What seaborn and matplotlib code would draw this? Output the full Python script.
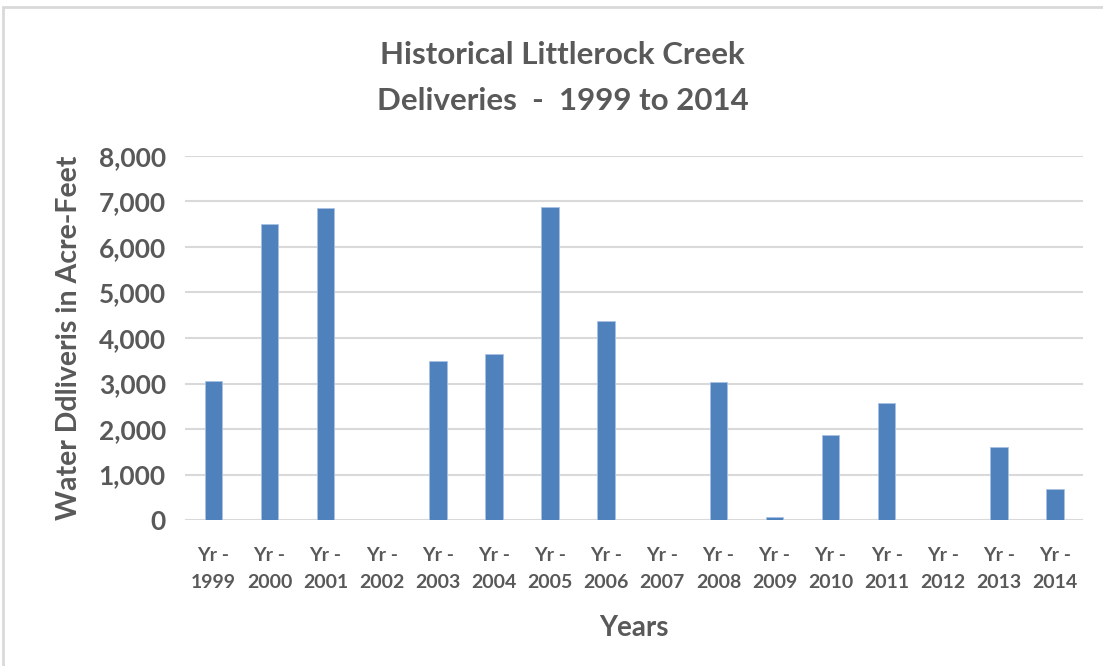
import pandas as pd
import matplotlib
matplotlib.use("Agg")
import matplotlib.pyplot as plt
import seaborn as sns
from matplotlib.patches import Rectangle
from matplotlib.ticker import FuncFormatter

# data
years = ["1999", "2000", "2001", "2002", "2003", "2004", "2005", "2006",
         "2007", "2008", "2009", "2010", "2011", "2012", "2013", "2014"]
deliveries = [3050, 6500, 6850, 0, 3500, 3650, 6870, 4370,
              0, 3040, 70, 1860, 2570, 0, 1600, 690]

df = pd.DataFrame({"year": ["Yr -\n" + y for y in years], "af": deliveries})

sns.set_style("white")
plt.rcParams["font.family"] = ["Lato", "DejaVu Sans"]
grey = "#595959"

fig = plt.figure(figsize=(11.03, 6.66), dpi=100)
ax = fig.add_axes([0.168, 0.219, 0.814, 0.547])

sns.barplot(data=df, x="year", y="af", color="#4f81bd", width=0.31,
            saturation=1, edgecolor="#a9c2e3", linewidth=0.6, ax=ax)

ax.set_ylim(0, 8000)
ax.set_yticks(range(0, 8001, 1000))
ax.yaxis.set_major_formatter(FuncFormatter(lambda v, p: f"{int(v):,}"))
ax.grid(axis="y", color="#d9d9d9", linewidth=1.5)
ax.set_axisbelow(True)
for s in ax.spines.values():
    s.set_visible(False)
ax.tick_params(axis="both", length=0)
ax.tick_params(axis="y", labelsize=19, labelcolor=grey, pad=14)
ax.tick_params(axis="x", labelsize=14, labelcolor=grey, pad=19)
for t in ax.get_yticklabels() + ax.get_xticklabels():
    t.set_fontweight("bold")
for t in ax.get_xticklabels():
    t.set_linespacing(1.75)

ax.set_xlabel("Years", fontsize=20, fontweight="bold", color=grey, labelpad=17)
ax.set_ylabel("Water Ddliveris in Acre-Feet", fontsize=20.5, fontweight="bold",
              color=grey, labelpad=12)

fig.text(0.51, 0.883, "Historical Littlerock Creek\nDeliveries  -  1999 to 2014",
         ha="center", va="center", fontsize=22.5, fontweight="bold", color=grey,
         linespacing=1.8)

# outer chart border
fig.patches.append(Rectangle((0.003, -0.01), 1.1, 0.999, transform=fig.transFigure,
                             fill=False, edgecolor="#d9d9d9", linewidth=2))

fig.savefig("out.png", dpi=100)
